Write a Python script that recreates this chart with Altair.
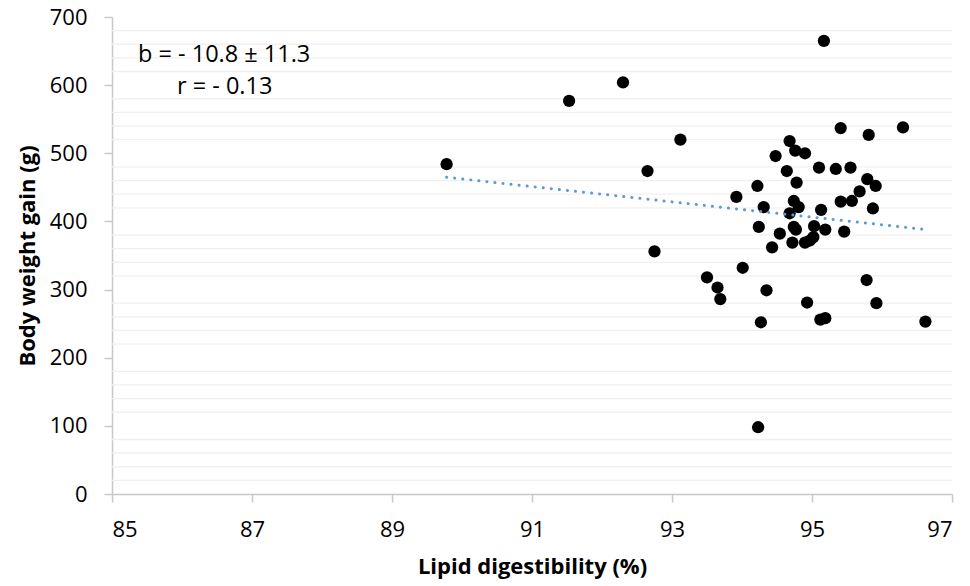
import altair as alt
import pandas as pd

lipid = [89.78, 91.53, 92.30, 93.12, 92.65, 92.75, 93.50, 93.65, 93.69, 94.01,
         94.35, 94.27, 94.23, 93.92, 94.22, 94.24, 94.31, 94.48, 94.43, 94.54,
         94.64, 94.68, 94.76, 94.90, 94.78, 94.74, 94.81, 94.68, 94.74, 94.77,
         94.72, 94.90, 94.97, 95.02, 95.03, 95.19, 95.13, 95.10, 95.17, 95.34,
         95.55, 95.41, 95.81, 96.30, 95.79, 95.91, 95.68, 95.41, 95.57, 95.87,
         95.46, 94.93, 95.12, 95.19, 95.78, 95.92, 96.62]
gain = [484, 577, 604, 520, 474, 356, 318, 303, 286, 332,
        299, 252, 98, 436, 452, 392, 421, 496, 362, 382,
        474, 518, 504, 500, 457, 430, 421, 412, 392, 388,
        369, 369, 372, 377, 393, 388, 417, 479, 665, 477,
        479, 537, 527, 538, 462, 452, 444, 429, 430, 419,
        385, 281, 256, 258, 314, 280, 253]

x_ticks = [85, 87, 89, 91, 93, 95, 97]
y_ticks = [0, 100, 200, 300, 400, 500, 600, 700]
y_minor = [v for v in range(20, 700, 20) if v % 100 != 0]
notes = ["b = - 10.8 ± 11.3", "r = - 0.13"]

df = pd.DataFrame({"x": lipid, "y": gain})

FONT = "Open Sans"
xs = alt.Scale(domain=[85, 97], nice=False, zero=False)
ys = alt.Scale(domain=[0, 700], nice=False)

minor = alt.Chart(pd.DataFrame({"v": y_minor})).mark_rule(
    color="#f0f0f0", strokeWidth=1.3
).encode(y=alt.Y("v:Q", scale=ys, axis=None))

x_enc = alt.X("x:Q", scale=xs,
              axis=alt.Axis(values=x_ticks, format="d", title="Lipid digestibility (%)", grid=False,
                            tickSize=8, labelPadding=17, titlePadding=16))
y_enc = alt.Y("y:Q", scale=ys,
              axis=alt.Axis(values=y_ticks, format="d", title="Body weight gain (g)",
                            gridColor="#d9d9d9", labelOverlap=False,
                            tickSize=8, labelPadding=17, titlePadding=10))

points = alt.Chart(df).mark_circle(size=150, color="black", opacity=1).encode(x=x_enc, y=y_enc)

trend = alt.Chart(df).transform_regression("x", "y").mark_line(
    color="#5b9bd5", strokeWidth=3, strokeDash=[0.1, 8], strokeCap="round"
).encode(x="x:Q", y=alt.Y("y:Q", axis=None))

note1 = alt.Chart(pd.DataFrame({"t": [notes[0]]})).mark_text(
    align="left", baseline="middle", fontSize=23.5, font=FONT, color="black"
).encode(text="t:N", x=alt.value(26), y=alt.value(38))
note2 = alt.Chart(pd.DataFrame({"t": [notes[1]]})).mark_text(
    align="left", baseline="middle", fontSize=23.5, font=FONT, color="black"
).encode(text="t:N", x=alt.value(65), y=alt.value(70))

chart = alt.layer(minor, points, trend, note1, note2).resolve_axis(y="independent").properties(
    width=840, height=477,
    autosize=alt.AutoSizeParams(type="none"),
    padding={"left": 104, "top": 9, "right": 10, "bottom": 86},
).configure_view(stroke=None).configure_axis(
    labelFont=FONT, titleFont=FONT, labelFontSize=22, titleFontSize=22,
    labelColor="black", titleColor="black", titleFontWeight="bold",
    domainColor="#c8c8c8", tickColor="#c8c8c8", domainWidth=1.5, tickWidth=1.5,
    gridWidth=1.3,
)

chart.save("out.html", embed_options={"renderer": "svg", "actions": False})
